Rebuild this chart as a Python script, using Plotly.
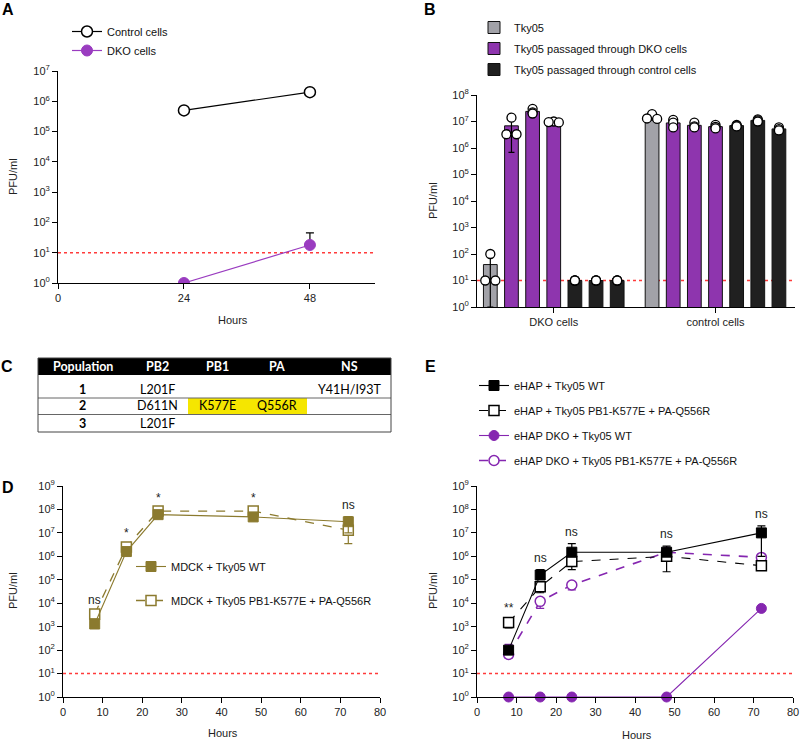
import numpy as np
import plotly.graph_objects as go

W, H = 800, 744
def fx(px): return px / W
def fy(py): return 1 - py / H

FONT = "Liberation Sans, Arial, sans-serif"
TFONT = "Lato, Open Sans, sans-serif"

# ---------------- Panel A data ----------------
a_hours = [24, 48]
a_control = [5e5, 2e6]
a_dko = [1, 18]
a_dko_err = [0, 27]

# ---------------- Panel B data ----------------
b_groups = ["DKO cells", "control cells"]
b_series = ["Tky05", "Tky05 passaged through DKO cells", "Tky05 passaged through control cells"]
b_bar_series = [0, 1, 1, 1, 2, 2, 2]
b_reps_dko = [[100, 10, 10], [1.4e7, 3.3e6, 3.3e6], [3.0e7, 2.2e7, 2.0e7], [1.0e7, 9.5e6, 9.2e6],
              [10, 10, 10], [10, 10, 10], [10, 10, 10]]
b_reps_ctrl = [[1.9e7, 1.3e7, 1.25e7], [1.15e7, 9e6, 6e6], [9e6, 6.5e6, 6e6], [7.5e6, 6.2e6, 5.5e6],
               [7.5e6, 7e6, 6.5e6], [1.2e7, 1.1e7, 1.0e7], [6e6, 5.2e6, 4.6e6]]

# ---------------- Panel C data ----------------
c_columns = ["Population", "PB2", "PB1", "PA", "NS"]
c_rows = [["1", "L201F", "", "", "Y41H/I93T"],
          ["2", "D611N", "K577E", "Q556R", ""],
          ["3", "L201F", "", "", ""]]
c_highlight = [(1, 2), (1, 3)]

# ---------------- Panel D data ----------------
d_hours = [8, 16, 24, 48, 72]
d_wt = [1.3e3, 1.6e6, 6.0e7, 4.8e7, 3.0e7]
d_wt_err = [3e2, 3e5, 1e7, 8e6, 2e7]
d_mut = [3.5e3, 2.5e6, 8.5e7, 8.5e7, 1.3e7]
d_mut_err = [8e2, 6e5, 1.5e7, 1e7, 9.5e6]
d_sig = ["ns", "*", "*", "*", "ns"]

# ---------------- Panel E data ----------------
e_hours = [8, 16, 24, 48, 72]
e_wt = [100, 1.6e5, 1.5e6, 1.5e6, 1.0e7]
e_wt_up = [40, 1.1e5, 2.0e6, 1.2e6, 1.0e7]
e_wt_dn = [30, 5e4, 5e5, 5e5, 9.0e6]
e_mut = [1.5e3, 5e4, 6e5, 1.0e6, 4e5]
e_mut_up = [500, 2e4, 3e5, 5e5, 1e5]
e_mut_dn = [610, 2.2e4, 3.3e5, 7.8e5, 1e5]
e_dko_wt = [1, 1, 1, 1, 6e3]
e_dko_mut = [65, 1.2e4, 6e4, 1.5e6, 9e5]
e_dko_mut_up = [110, 4e3, 1.5e4, 2e5, 1e5]
e_dko_mut_dn = [20, 6e3, 2.3e4, 2e5, 1e5]
e_sig = ["**", "ns", "ns", "ns", "ns"]

PURPLE_A = "#9a3cc0"
PURPLE_B = "#8e35ae"
PURPLE_E = "#8526b0"
GRAY_B = "#a2a2a8"
BLACK_B = "#202020"
OLIVE = "#8b7a2e"
RED = "#ff3b3b"

fig = go.Figure()

# ---------- Panel A ----------
fig.add_trace(go.Scatter(x=a_hours, y=a_control, mode="lines+markers", name="Control cells",
                         line=dict(color="black", width=1.2),
                         marker=dict(symbol="circle", size=11, color="white", line=dict(color="black", width=1.5)),
                         xaxis="x", yaxis="y", legend="legend"))
fig.add_trace(go.Scatter(x=a_hours, y=a_dko, mode="lines+markers", name="DKO cells",
                         line=dict(color=PURPLE_A, width=1.2),
                         marker=dict(symbol="circle", size=11, color=PURPLE_A, line=dict(color=PURPLE_A, width=1)),
                         error_y=dict(type="data", array=a_dko_err, arrayminus=[0, 0], color="black",
                                      thickness=1.2, width=4),
                         xaxis="x", yaxis="y", legend="legend"))

# ---------- Panel B ----------
nb = len(b_bar_series)
gap = 0.65
series_colors = [GRAY_B, PURPLE_B, BLACK_B]
bar_x, bar_y, bar_sd_up, bar_sd_dn, bar_s = [], [], [], [], []
pt_x, pt_y = [], []
for g, reps_all in enumerate([b_reps_dko, b_reps_ctrl]):
    for i, reps in enumerate(reps_all):
        x = g * (nb + gap) + i
        m = float(np.mean(reps))
        sd = float(np.std(reps, ddof=1))
        bar_x.append(x); bar_y.append(m); bar_s.append(b_bar_series[i])
        bar_sd_up.append(sd); bar_sd_dn.append(min(sd, m - 1.0))
        vals = list(reps)
        for k, v in enumerate(vals):
            same = [j for j, w in enumerate(vals) if abs(np.log10(w) - np.log10(v)) < 0.02]
            off = 0.0
            if len(same) == 2:
                off = -0.24 if same.index(k) == 0 else 0.24
            pt_x.append(x + off); pt_y.append(v)

for s, name in enumerate(b_series):
    idx = [k for k in range(len(bar_x)) if bar_s[k] == s]
    fig.add_trace(go.Bar(x=[bar_x[k] for k in idx], y=[bar_y[k] for k in idx], name=name,
                         width=0.65, marker=dict(color=series_colors[s], line=dict(color="#111", width=1)),
                         error_y=dict(type="data", array=[bar_sd_up[k] for k in idx],
                                      arrayminus=[bar_sd_dn[k] for k in idx],
                                      color="black", thickness=1.2, width=3),
                         xaxis="x2", yaxis="y2", legend="legend2", legendgroup=f"b{s}"))
fig.add_trace(go.Scatter(x=pt_x, y=pt_y, mode="markers", showlegend=False,
                         marker=dict(symbol="circle", size=9, color="white", line=dict(color="black", width=1.3)),
                         xaxis="x2", yaxis="y2", cliponaxis=False))

# ---------- Panel D ----------
fig.add_trace(go.Scatter(x=d_hours, y=d_mut, mode="lines+markers", name="MDCK + Tky05 PB1-K577E + PA-Q556R",
                         line=dict(color=OLIVE, width=1.3, dash="dash"),
                         marker=dict(symbol="square", size=10, color="white", line=dict(color=OLIVE, width=1.5)),
                         error_y=dict(type="data", array=d_mut_err, color=OLIVE, thickness=1.2, width=4),
                         xaxis="x3", yaxis="y3", legend="legend3", legendgroup="d2", legendrank=2))
fig.add_trace(go.Scatter(x=d_hours, y=d_wt, mode="lines+markers", name="MDCK + Tky05 WT",
                         line=dict(color=OLIVE, width=1.1),
                         marker=dict(symbol="square", size=10, color=OLIVE, line=dict(color=OLIVE, width=1)),
                         error_y=dict(type="data", array=d_wt_err, color=OLIVE, thickness=1.2, width=4),
                         xaxis="x3", yaxis="y3", legend="legend3", legendgroup="d1", legendrank=1))

# ---------- Panel E ----------
fig.add_trace(go.Scatter(x=e_hours, y=e_dko_mut, mode="lines+markers", name="eHAP DKO + Tky05 PB1-K577E + PA-Q556R",
                         line=dict(color=PURPLE_E, width=1.6, dash="dash"),
                         marker=dict(symbol="circle", size=10, color="white", line=dict(color=PURPLE_E, width=1.5)),
                         error_y=dict(type="data", array=e_dko_mut_up, arrayminus=e_dko_mut_dn,
                                      color=PURPLE_E, thickness=1.2, width=4),
                         xaxis="x4", yaxis="y4", legend="legend4", legendgroup="e4", legendrank=4))
fig.add_trace(go.Scatter(x=e_hours, y=e_mut, mode="lines+markers", name="eHAP + Tky05 PB1-K577E + PA-Q556R",
                         line=dict(color="black", width=1.1, dash="dash"),
                         marker=dict(symbol="square", size=10, color="white", line=dict(color="black", width=1.5)),
                         error_y=dict(type="data", array=e_mut_up, arrayminus=e_mut_dn,
                                      color="black", thickness=1.2, width=4),
                         xaxis="x4", yaxis="y4", legend="legend4", legendgroup="e2", legendrank=2))
fig.add_trace(go.Scatter(x=e_hours, y=e_dko_wt, mode="lines+markers", name="eHAP DKO + Tky05 WT",
                         line=dict(color=PURPLE_E, width=1.1),
                         marker=dict(symbol="circle", size=10, color=PURPLE_E, line=dict(color=PURPLE_E, width=1)),
                         xaxis="x4", yaxis="y4", legend="legend4", legendgroup="e3", legendrank=3,
                         cliponaxis=False))
fig.add_trace(go.Scatter(x=e_hours, y=e_wt, mode="lines+markers", name="eHAP + Tky05 WT",
                         line=dict(color="black", width=1.1),
                         marker=dict(symbol="square", size=10, color="black", line=dict(color="black", width=1)),
                         error_y=dict(type="data", array=e_wt_up, arrayminus=e_wt_dn,
                                      color="black", thickness=1.2, width=4),
                         xaxis="x4", yaxis="y4", legend="legend4", legendgroup="e1", legendrank=1))

# ---------- Axes ----------
def sup_ticks(n):
    return [10 ** k for k in range(n + 1)], [f"10<sup>{k}</sup>" for k in range(n + 1)]

axis_common = dict(showline=True, linecolor="black", linewidth=1, ticks="outside", ticklen=5,
                   tickwidth=1, tickcolor="black", showgrid=False, zeroline=False, automargin=False,
                   tickfont=dict(family=FONT, size=11, color="#222"))

ta, tta = sup_ticks(7)
tb, ttb = sup_ticks(8)
td, ttd = sup_ticks(9)

fig.update_layout(
    xaxis=dict(domain=[fx(58), fx(375)], range=[0, 60.4], tickvals=[0, 24, 48], anchor="y", **axis_common),
    yaxis=dict(domain=[fy(283), fy(71)], type="log", range=[0, 7], tickvals=ta, ticktext=tta,
               anchor="x", **axis_common),
    xaxis2=dict(domain=[fx(477), fx(795)], range=[-0.63, 14.41],
                tickvals=[g * (nb + gap) + (nb - 1) / 2 for g in range(len(b_groups))],
                ticktext=b_groups, anchor="y2", **axis_common),
    yaxis2=dict(domain=[fy(307), fy(95)], type="log", range=[0, 8], tickvals=tb, ticktext=ttb,
                anchor="x2", **axis_common),
    xaxis3=dict(domain=[fx(63), fx(380)], range=[0, 80], dtick=10, anchor="y3", **axis_common),
    yaxis3=dict(domain=[fy(697), fy(486)], type="log", range=[0, 9], tickvals=td, ticktext=ttd,
                anchor="x3", **axis_common),
    xaxis4=dict(domain=[fx(477), fx(793)], range=[0, 80], dtick=10, anchor="y4", **axis_common),
    yaxis4=dict(domain=[fy(697), fy(486)], type="log", range=[0, 9], tickvals=td, ticktext=ttd,
                anchor="x4", **axis_common),
)

# ---------- Legends ----------
leg_common = dict(bgcolor="rgba(0,0,0,0)", font=dict(family=FONT, size=11, color="#111"),
                  xanchor="left", yanchor="top", traceorder="normal")
fig.update_layout(
    legend=dict(x=fx(67), y=fy(17), **leg_common),
    legend2=dict(x=fx(474), y=fy(13), tracegroupgap=2, **{**leg_common, "traceorder": "grouped"}),
    legend3=dict(x=fx(131), y=fy(552), tracegroupgap=15, **{**leg_common, "traceorder": "grouped"}),
    legend4=dict(x=fx(474), y=fy(371), tracegroupgap=6, **{**leg_common, "traceorder": "grouped"}),
)

# ---------- Reference lines (limit of detection) ----------
for xr, yr in [("x", "y"), ("x2", "y2"), ("x3", "y3"), ("x4", "y4")]:
    fig.add_shape(type="line", xref=f"{xr} domain", yref=yr, x0=0, x1=1, y0=10, y1=10,
                  line=dict(color=RED, width=1.4, dash="dot"), layer="below")

# ---------- Significance labels ----------
d_top = np.maximum(np.add(d_wt, d_wt_err), np.add(d_mut, d_mut_err))
for h, y, s in zip(d_hours, d_top, d_sig):
    fig.add_annotation(x=h, y=np.log10(y) + 0.12, xref="x3", yref="y3", text=s, showarrow=False,
                       yanchor="bottom", font=dict(family=FONT, size=12, color="#222"))
e_top = np.maximum.reduce([np.add(e_wt, e_wt_up), np.add(e_mut, e_mut_up), np.add(e_dko_mut, e_dko_mut_up)])
for h, y, s in zip(e_hours, e_top, e_sig):
    fig.add_annotation(x=h, y=np.log10(y) + 0.12, xref="x4", yref="y4", text=s, showarrow=False,
                       yanchor="bottom", font=dict(family=FONT, size=12, color="#222"))

# ---------- Axis titles ----------
def ann(text, x, y, **kw):
    fig.add_annotation(text=text, x=fx(x), y=fy(y), xref="paper", yref="paper", showarrow=False,
                       xanchor="center", yanchor="middle", **kw)

for (x, y) in [(13, 177), (433, 201), (13, 591), (433, 591)]:
    ann("PFU/ml", x, y, textangle=-90, font=dict(family=FONT, size=11, color="#222"))
for (x, y) in [(233, 320), (223, 733), (637, 735)]:
    ann("Hours", x, y, font=dict(family=FONT, size=11, color="#222"))

# ---------- Panel letters ----------
for letter, x, y in [("A", 8, 10), ("B", 430, 10), ("C", 7, 366), ("D", 8, 487), ("E", 430, 366)]:
    ann(f"<b>{letter}</b>", x, y, font=dict(family=FONT, size=16, color="black"))

# ---------- Panel C table ----------
t_left, t_right = 38, 391
col_edges = [38, 127, 188, 247, 307, 391]
head_top, head_bot = 358, 375
row_bottoms = [398, 414.5, 432]

def rect(x0, y0, x1, y1, **kw):
    fig.add_shape(type="rect", xref="paper", yref="paper", x0=fx(x0), x1=fx(x1), y0=fy(y1), y1=fy(y0), **kw)

rect(t_left, head_top, t_right, head_bot, fillcolor="black", line=dict(width=0))
prev = head_bot
for r, rb in enumerate(row_bottoms):
    for (hr, hc) in c_highlight:
        if hr == r:
            rect(col_edges[hc], prev, col_edges[hc + 1], rb, fillcolor="#f5e600", line=dict(width=0))
    prev = rb
for rb in row_bottoms[:-1]:
    fig.add_shape(type="line", xref="paper", yref="paper", x0=fx(t_left), x1=fx(t_right),
                  y0=fy(rb), y1=fy(rb), line=dict(color="#666", width=1))
rect(t_left, head_top, t_right, row_bottoms[-1], line=dict(color="#444", width=1))

for c, name in enumerate(c_columns):
    cx = (col_edges[c] + col_edges[c + 1]) / 2
    ann(f"<b>{name}</b>", cx, (head_top + head_bot) / 2, font=dict(family=TFONT, size=12.5, color="white"))
for r, row in enumerate(c_rows):
    for c, val in enumerate(row):
        if not val:
            continue
        cx = (col_edges[c] + col_edges[c + 1]) / 2
        txt = f"<b>{val}</b>" if c == 0 else val
        ann(txt, cx, row_bottoms[r] - 8.5, font=dict(family=TFONT, size=12.5, color="black"))

fig.update_layout(width=W, height=H, margin=dict(l=0, r=0, t=0, b=0, autoexpand=False),
                  plot_bgcolor="white", paper_bgcolor="white", barmode="overlay",
                  font=dict(family=FONT, size=11, color="#222"))

fig.write_html("out.html", config={"displayModeBar": False},
               post_script="document.body.style.margin='0px';document.body.style.overflow='hidden';")
